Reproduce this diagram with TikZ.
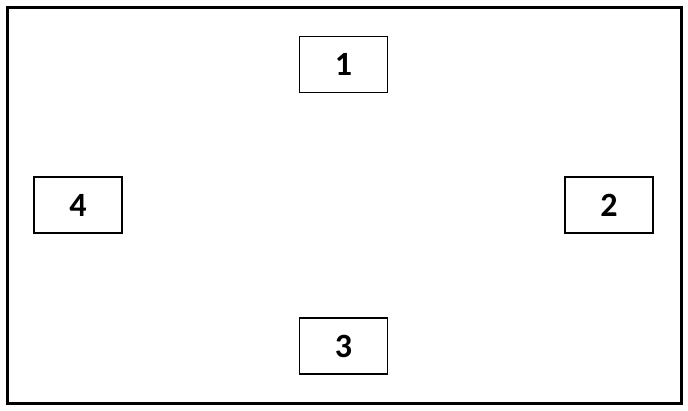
\documentclass[tikz,border=0pt]{standalone}
\usepackage{fontspec}
\setmainfont{Carlito}
\tikzset{
  frame/.style={draw, line width=3pt},
  numbox/.style={draw, rectangle, line width=1.5pt, minimum width=88pt, minimum height=56pt,
                 inner sep=0pt, font=\fontsize{34}{38}\selectfont\bfseries},
}

\begin{document}
\begin{tikzpicture}[x=1pt, y=-1pt]
\useasboundingbox (0,0) rectangle (688,410);
%draw outer frame
\draw[frame] (7,7) rectangle (681,403);

%%draw numbered boxes
\foreach \Name/\X/\Y in {1/343.5/64.5, 2/609/205, 3/343.5/346, 4/78/205}
  \node[numbox] (box\Name) at (\X,\Y) {\raisebox{-1.5pt}{\Name}};
\end{tikzpicture}
\end{document}
